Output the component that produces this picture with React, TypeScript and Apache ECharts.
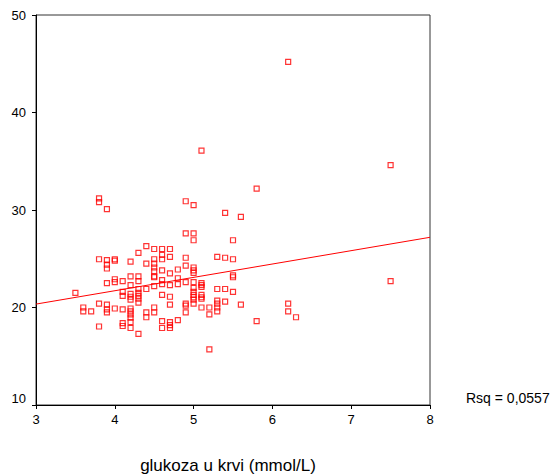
import React, { useEffect, useRef } from "react";
import * as echarts from "echarts";

// Blood glucose (mmol/L) on x, second measure on y
const glucose: number[] = [
  6.2, 5.1, 7.5, 5.8, 3.8, 3.8, 3.9, 4.9, 5.0, 5.4, 5.6, 4.9, 5.0, 5.0, 5.5,
  4.4, 4.5, 4.6, 4.7, 4.3, 4.6, 4.7, 4.6, 4.5, 3.8, 3.9, 4.0, 4.0, 4.2, 4.4,
  4.5, 3.9, 3.9, 4.5, 4.5, 4.6, 4.9, 4.9, 4.8, 5.0, 5.0, 5.0, 5.3, 5.4, 5.5,
  4.7, 4.2, 4.3, 4.5, 4.5, 5.5, 5.5, 4.8, 4.0, 4.0, 4.1, 4.3, 4.6, 4.6, 3.9,
  4.9, 5.0, 4.8, 5.1, 5.1, 5.1, 4.7, 4.2, 4.5, 5.0, 4.3, 4.4, 5.3, 5.4, 7.5,
  3.5, 4.1, 4.1, 4.2, 4.3, 4.3, 4.2, 4.2, 4.3, 4.3, 4.6, 4.7, 5.0, 5.0, 5.0,
  5.0, 5.0, 5.1, 5.1, 5.1, 5.5, 5.3, 5.3, 5.4, 5.6, 6.2, 6.2, 6.3, 5.8, 3.8,
  3.9, 4.0, 3.9, 3.9, 3.6, 3.6, 3.7, 4.1, 4.2, 4.2, 4.2, 4.2, 4.2, 4.2, 4.1,
  4.1, 3.8, 4.3, 4.4, 4.4, 4.5, 4.5, 4.7, 4.6, 4.6, 4.7, 4.7, 4.7, 4.8, 4.9,
  4.9, 4.9, 5.1, 5.2, 5.2, 5.2, 5.3, 5.3,
];
const measure: number[] = [
  45.2, 36.1, 34.6, 32.2, 31.2, 30.8, 30.1, 30.9, 30.5, 29.7, 29.3, 27.6, 27.6, 26.9, 26.9,
  26.3, 26.0, 26.0, 26.0, 25.6, 25.4, 25.2, 24.95, 24.95, 24.95, 24.85, 24.95, 24.8, 24.7, 24.5,
  24.5, 24.4, 24.0, 24.1, 23.7, 23.8, 25.1, 24.3, 23.9, 24.1, 23.8, 23.55, 25.2, 25.1, 24.95,
  23.5, 23.2, 23.2, 23.2, 23.1, 23.3, 23.1, 23.0, 22.9, 22.6, 22.7, 22.7, 22.8, 22.4, 22.5,
  22.6, 22.6, 22.4, 22.5, 22.3, 22.1, 22.3, 22.3, 22.2, 22.0, 21.9, 21.9, 21.9, 21.9, 22.7,
  21.5, 21.6, 21.2, 21.4, 21.5, 21.2, 21.1, 20.8, 20.9, 20.5, 21.3, 21.1, 21.6, 21.3, 21.05,
  20.8, 20.4, 21.3, 21.05, 20.9, 21.6, 20.7, 20.4, 20.6, 20.3, 20.4, 19.6, 19.0, 18.6, 20.4,
  20.3, 19.9, 19.8, 19.5, 20.0, 19.6, 19.6, 19.8, 19.9, 19.6, 19.3, 18.95, 18.5, 17.9, 18.4,
  18.1, 18.05, 17.3, 19.5, 19.0, 20.0, 19.5, 20.3, 18.6, 17.9, 18.5, 18.2, 17.9, 18.7, 20.4,
  20.2, 19.5, 20.0, 20.0, 19.3, 15.7, 20.0, 19.6,
];

// Linear fit drawn across the full x range
const fitX: number[] = [3, 8];
const fitY: number[] = [20.35, 27.2];
const rsqLabel = "Rsq = 0,0557";

const xTicks = { min: 3, max: 8, interval: 1 };
const yTicks = { min: 10, max: 50, interval: 10 };
const xTitle = "glukoza u krvi (mmol/L)";

const FONT = "'Liberation Sans', Arial, sans-serif";
const RED = "#ff0000";

export default function App() {
  const ref = useRef<HTMLDivElement>(null);

  useEffect(() => {
    document.body.style.margin = "0";
    if (!ref.current) return;
    const chart = echarts.init(ref.current, undefined, { renderer: "svg" });

    const points = glucose.map((x, i) => [x, measure[i]]);
    const line = fitX.map((x, i) => [x, fitY[i]]);

    chart.setOption({
      animation: false,
      backgroundColor: "#ffffff",
      grid: {
        left: 36,
        top: 15,
        width: 394,
        height: 390,
        show: true,
        borderColor: "#333333",
        borderWidth: 1,
        containLabel: false,
      },
      xAxis: {
        type: "value",
        min: xTicks.min,
        max: xTicks.max,
        interval: xTicks.interval,
        splitLine: { show: false },
        axisLine: { lineStyle: { color: "#000", width: 1 } },
        axisTick: { show: true, length: 4, lineStyle: { color: "#000" } },
        axisLabel: {
          color: "#000",
          fontFamily: FONT,
          fontSize: 13,
          margin: 8,
        },
      },
      yAxis: {
        type: "value",
        min: yTicks.min,
        max: yTicks.max,
        interval: yTicks.interval,
        splitLine: { show: false },
        axisLine: { lineStyle: { color: "#000", width: 1 } },
        axisTick: { show: true, length: 4, lineStyle: { color: "#000" } },
        axisLabel: {
          color: "#000",
          fontFamily: FONT,
          fontSize: 13,
          margin: 10,
          verticalAlignMinLabel: "bottom",
        },
      },
      graphic: [
        {
          type: "text",
          left: 466,
          top: 391,
          style: {
            text: rsqLabel,
            fill: "#000",
            font: `14px ${FONT}`,
          },
        },
        {
          type: "text",
          x: 228,
          y: 465,
          style: {
            text: xTitle,
            fill: "#000",
            font: `17px ${FONT}`,
            align: "center",
            verticalAlign: "middle",
          },
        },
      ],
      series: [
        {
          type: "line",
          data: line,
          symbol: "none",
          lineStyle: { color: RED, width: 1 },
          z: 2,
        },
        {
          type: "scatter",
          data: points,
          symbol: "rect",
          symbolSize: 5,
          itemStyle: {
            color: "rgba(255,255,255,0)",
            borderColor: RED,
            borderWidth: 1.2,
          },
          z: 3,
        },
      ],
    });

    return () => chart.dispose();
  }, []);

  return <div ref={ref} style={{ width: 551, height: 475 }} />;
}
